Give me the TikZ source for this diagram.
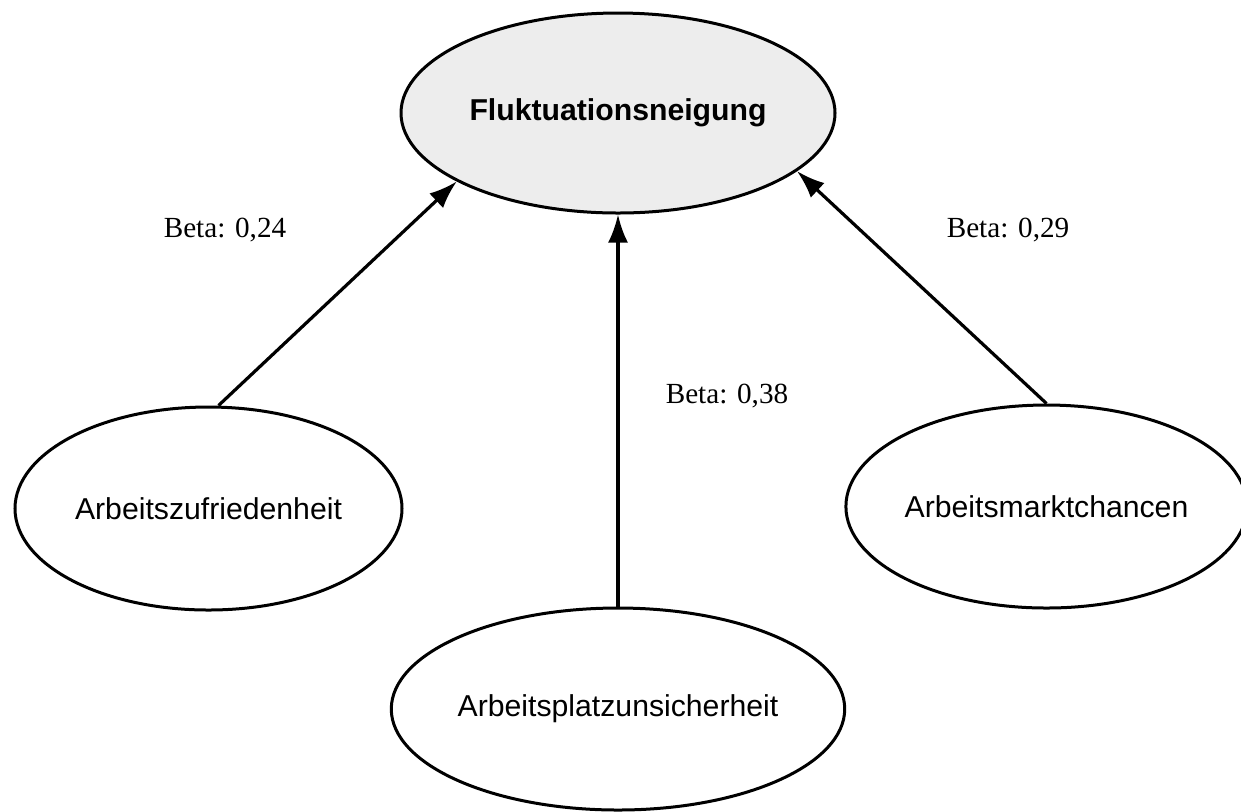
\documentclass[tikz,border=0pt]{standalone}
\usepackage{fontspec}
\setmainfont{Liberation Serif}
\newfontfamily\arialfont{Liberation Sans}
\usetikzlibrary{shapes.geometric,arrows.meta}
\begin{document}
\begin{tikzpicture}[x=0.5pt,y=-0.5pt,
  factor/.style={ellipse,draw=black,line width=1.5pt,inner sep=0pt,
    font=\arialfont\fontsize{15.1pt}{18pt}\selectfont},
  conn/.style={line width=1.6pt,-{Latex[length=14pt,width=10pt]}},
  beta/.style={font=\fontsize{14.6pt}{17pt}\selectfont,inner sep=0pt}]
\useasboundingbox (0,0) rectangle (1241,811);
\node[factor,fill=black!7,minimum width=217pt,minimum height=100pt,font=\arialfont\bfseries\fontsize{15.1pt}{18pt}\selectfont] (top) at (618,113) {Fluktuationsneigung};
\node[factor,minimum width=193.5pt,minimum height=101.5pt] (left) at (208.5,508.5) {Arbeitszufriedenheit};
\node[factor,minimum width=195pt,minimum height=101pt] (mid) at (618,709) {Arbeitsplatzunsicherheit};
\node[factor,minimum width=191.5pt,minimum height=101.5pt] (right) at (1046.5,506.5) {Arbeitsmarktchancen};
\draw[conn] (left.north) ++(10,0) coordinate (ls) -- (top.203);
\draw[conn] (mid.north) -- (top.south);
\draw[conn] (right.north) -- (top.342);
\node[beta] (b1) at (225,230) {Beta: 0,24};
\node[beta] (b2) at (727,396) {Beta: 0,38};
\node[beta] (b3) at (1008,230) {Beta: 0,29};
\end{tikzpicture}
\end{document}
